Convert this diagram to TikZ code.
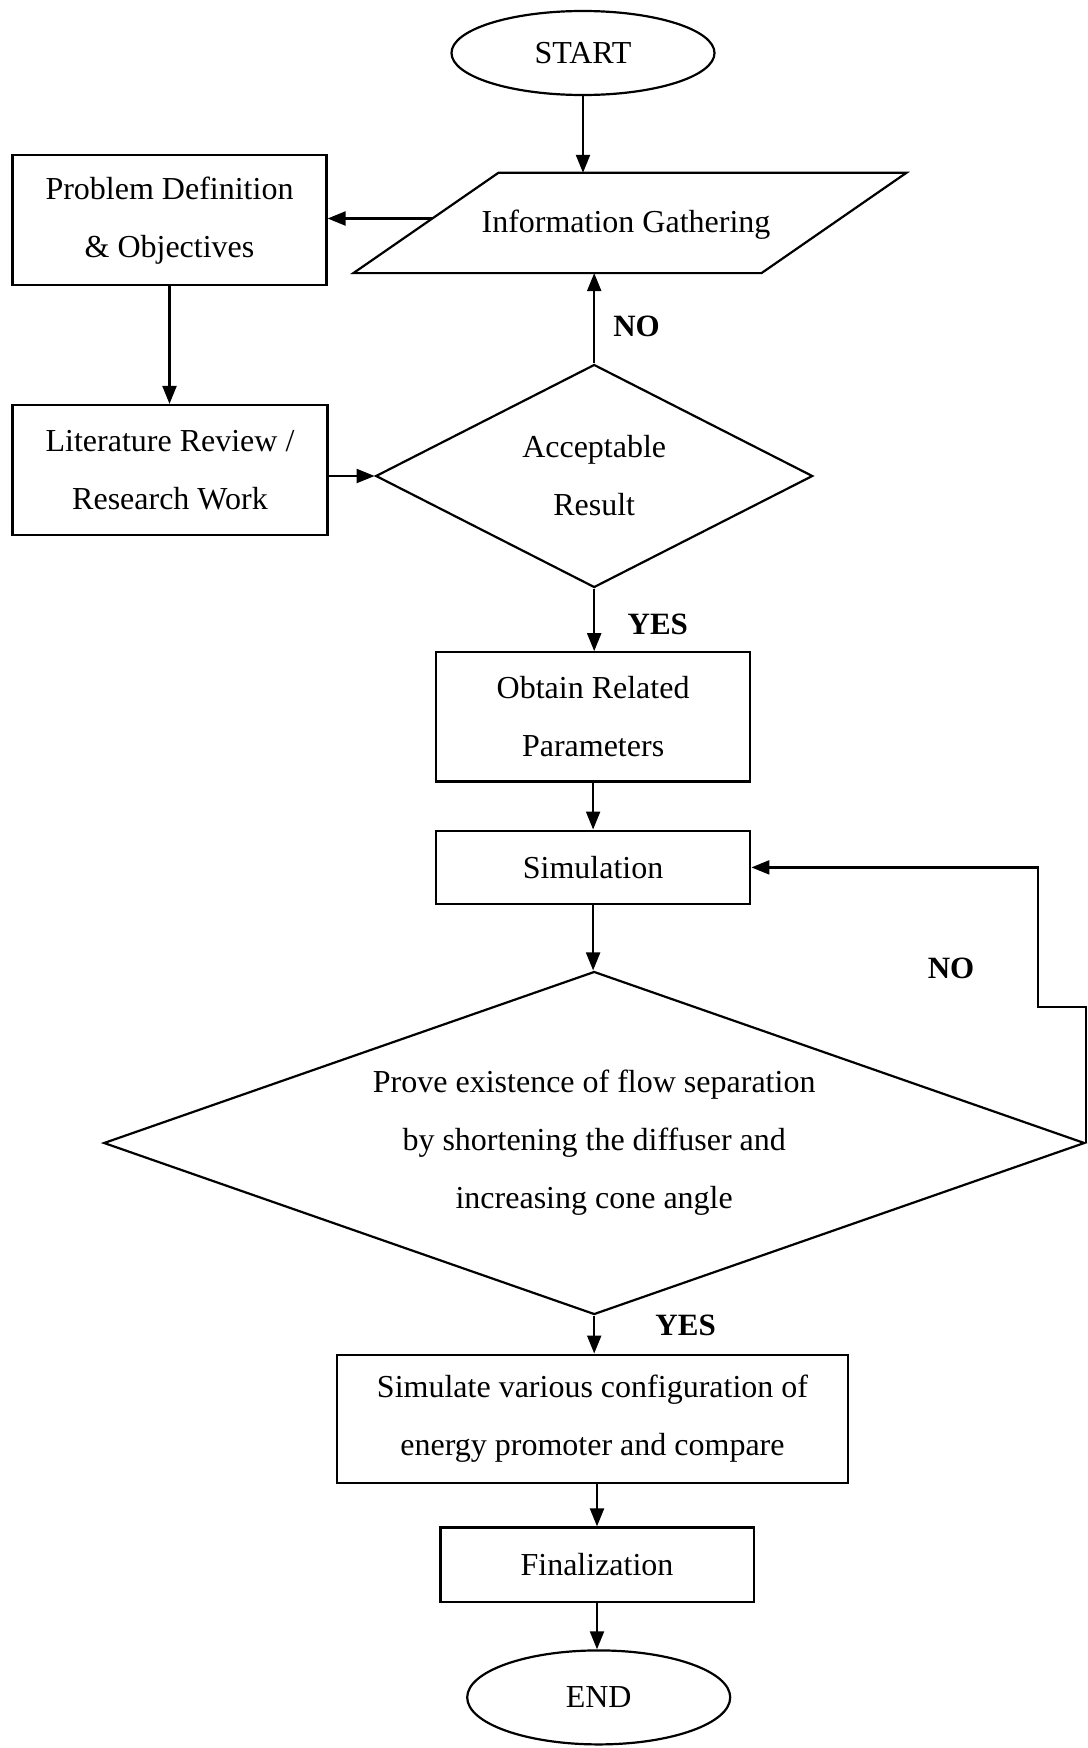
\documentclass[tikz,border=0pt]{standalone}
\usepackage{fontspec}
\setmainfont{Liberation Serif}
\usetikzlibrary{shapes.geometric,arrows.meta,calc}
\begin{document}
\begin{tikzpicture}[x=1pt,y=-1pt,
  every node/.style={font=\fontsize{32}{58}\selectfont},
  box/.style={draw,line width=2.2pt,rectangle,inner sep=0pt,align=center},
  term/.style={draw,line width=2.2pt,ellipse,inner sep=0pt},
  decision/.style={draw,line width=2.2pt,diamond,inner sep=0pt,align=center},
  arr/.style={line width=2.2pt,-{Triangle[length=18pt,width=14pt]}},
  lab/.style={font=\fontsize{31}{36}\selectfont\bfseries}]
\useasboundingbox (0,0) rectangle (1087,1748);

\node[term,minimum width=263pt,minimum height=84pt] (start) at (583,53) {START};

\coordinate (pTL) at (498.4,172.8);
\coordinate (pTR) at (906.4,172.8);
\coordinate (pBR) at (761.5,273.1);
\coordinate (pBL) at (353.4,273.1);
\draw[line width=2.2pt,line join=miter] (pTL)--(pTR)--(pBR)--(pBL)--cycle;
\node (info) at (626,225) {Information Gathering};
\coordinate (infoL) at (432,218.5);

\node[box,minimum width=314pt,minimum height=130pt] (prob) at (169.5,220.2) {Problem Definition\\ \& Objectives};
\node[box,minimum width=315pt,minimum height=130pt] (lit) at (170,470) {Literature Review /\\Research Work};
\node[decision,aspect=1.96,minimum width=437pt,minimum height=223pt] (d1) at (594.2,476) {Acceptable\\Result};
\node[box,minimum width=314.4pt,minimum height=129.3pt] (obt) at (593.1,716.9) {Obtain Related\\Parameters};
\node[box,minimum width=314.4pt,minimum height=73.6pt] (sim) at (593.1,867.4) {Simulation};
\node[decision,aspect=2.86,minimum width=981pt,minimum height=343pt] (d2) at (594.2,1143) {Prove existence of flow separation\\by shortening the diffuser and\\increasing cone angle};
\node[box,minimum width=511.7pt,minimum height=128.2pt] (simc) at (592.5,1418.7) {Simulate various configuration of\\energy promoter and compare};
\node[box,minimum width=313.2pt,minimum height=74.7pt] (fin) at (597,1564.8) {Finalization};
\node[term,minimum width=263pt,minimum height=94pt] (end) at (598.7,1697.4) {END};

\coordinate (s2) at (1037.9,1006.7);

\draw[arr] (start.south) -- (start.south |- pTL);
\draw[arr] (infoL) -- (infoL -| prob.east);
\draw[arr] (prob.south) -- (prob.south |- lit.north);
\draw[arr] (lit.east |- d1.west) -- (d1.west);
\draw[arr] (d1.north) -- (d1.north |- pBL);
\draw[arr] (d1.south) -- (d1.south |- obt.north);
\draw[arr] (obt.south) -- (obt.south |- sim.north);
\draw[arr] (sim.south) -- (sim.south |- d2.north);
\draw[arr] (d2.east) |- (s2) |- (sim.east);
\draw[arr] (d2.south) -- (d2.south |- simc.north);
\draw[arr] (simc.south -| fin.north) -- (fin.north);
\draw[arr] (fin.south) -- (fin.south |- end.north);

\node[lab] (no1) at (636.6,326.7) {NO};
\node[lab] (yes1) at (657.8,624.3) {YES};
\node[lab] (no2) at (951,968.8) {NO};
\node[lab] (yes2) at (685.6,1325.6) {YES};
\end{tikzpicture}
\end{document}
